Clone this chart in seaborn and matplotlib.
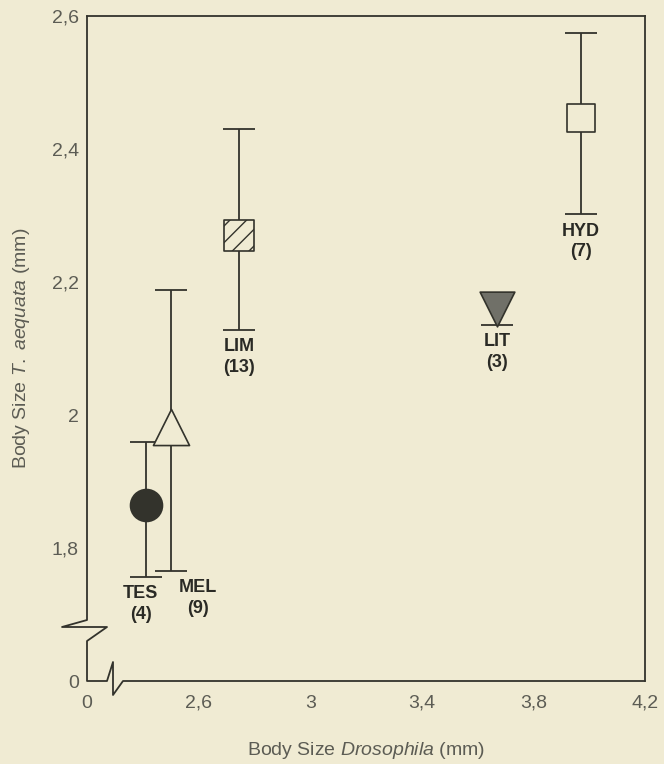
import matplotlib
matplotlib.use("Agg")
import matplotlib.pyplot as plt
import seaborn as sns

# body size data per site
sites = ['TES', 'MEL', 'LIM', 'LIT', 'HYD']
n_samples = [4, 9, 13, 3, 7]
drosophila = [2.41, 2.50, 2.745, 3.67, 3.97]
aequata = [1.865, 1.982, 2.27, 2.16, 2.447]
err_low = [0.108, 0.216, 0.142, 0.024, 0.145]
err_high = [0.095, 0.206, 0.16, 0.0, 0.128]

xticks = [2.2, 2.6, 3.0, 3.4, 3.8, 4.2]
xticklabels = ['0', '2,6', '3', '3,4', '3,8', '4,2']
yticks = [1.6, 1.8, 2.0, 2.2, 2.4, 2.6]
yticklabels = ['0', '1,8', '2', '2,2', '2,4', '2,6']

bg = '#f0ebd3'
ink = '#33332c'
grey = '#5c5c54'

sns.set_theme(style='white')
plt.rcParams['font.family'] = ['Liberation Sans', 'DejaVu Sans']
plt.rcParams['mathtext.fontset'] = 'custom'
plt.rcParams['mathtext.rm'] = 'Liberation Sans'
plt.rcParams['mathtext.it'] = 'Liberation Sans:italic'
plt.rcParams['hatch.color'] = ink
plt.rcParams['hatch.linewidth'] = 1.0

fig = plt.figure(figsize=(6.64, 7.64), dpi=100, facecolor=bg)
ax = fig.add_axes([87 / 664, 1 - 681 / 764, 558 / 664, 665 / 764])
ax.set_facecolor(bg)

styles = {
    'TES': dict(marker='o', s=23 ** 2, color=ink),
    'MEL': dict(marker='^', s=26 ** 2, color=bg),
    'LIM': dict(marker='s', s=22 ** 2, color=bg, hatch='//'),
    'LIT': dict(marker='v', s=25 ** 2, color='#707068'),
    'HYD': dict(marker='s', s=19.5 ** 2, color=bg),
}
label_dx = {'TES': -3.6, 'MEL': 19.4, 'LIM': 0, 'LIT': 0, 'HYD': 0}

for site, n, x, y, lo, hi in zip(sites, n_samples, drosophila, aequata,
                                 err_low, err_high):
    _, caps, _ = ax.errorbar([x], [y], yerr=[[lo], [hi]], fmt='none',
                             ecolor=ink, elinewidth=1.3, capsize=11.5,
                             capthick=1.3, zorder=2)
    # no upper cap when there is no upper error
    for cap in caps:
        if cap.get_ydata()[0] == y:
            cap.set_visible(False)
    sns.scatterplot(x=[x], y=[y], edgecolor=ink, linewidth=1.2, zorder=3,
                    ax=ax, legend=False, **styles[site])
    ax.annotate(f'{site}\n({n})', xy=(x, y - lo), xytext=(label_dx[site], -6),
                textcoords='offset points', ha='center', va='top',
                fontsize=13, fontweight='bold', color='#2a2a25', linespacing=1.3)

ax.set_xlim(2.2, 4.2)
ax.set_ylim(1.6, 2.6)
ax.set_xticks(xticks)
ax.set_xticklabels(xticklabels)
ax.set_yticks(yticks)
ax.set_yticklabels(yticklabels)
ax.tick_params(direction='in', length=8, width=1, color=ink, labelcolor=grey,
               labelsize=14)
ax.tick_params(axis='x', pad=10)
ax.tick_params(axis='y', pad=6)

for side in ['top', 'right']:
    ax.spines[side].set_color(ink)
    ax.spines[side].set_linewidth(1.3)
ax.spines['left'].set_visible(False)
ax.spines['bottom'].set_visible(False)

# broken axes drawn as one line
w, h = 558.0, 665.0
bx = [0, 0, -25 / w, 20 / w, 0, 0, 20 / w, 26 / w, 26 / w, 36 / w, 1]
by = [1, 61 / h, 54 / h, 54 / h, 40 / h, 0, 0, 19 / h, -14 / h, 0, 0]
ax.plot(bx, by, transform=ax.transAxes, clip_on=False, color=ink, lw=1.3)

ax.set_xlabel('Body Size $\\mathit{Drosophila}$ (mm)', fontsize=14, color=grey,
              labelpad=20)
ax.set_ylabel('Body Size $\\mathit{T.\\ aequata}$ (mm)', fontsize=14, color=grey,
              labelpad=14)

fig.savefig('out.png', dpi=100, facecolor=bg)
